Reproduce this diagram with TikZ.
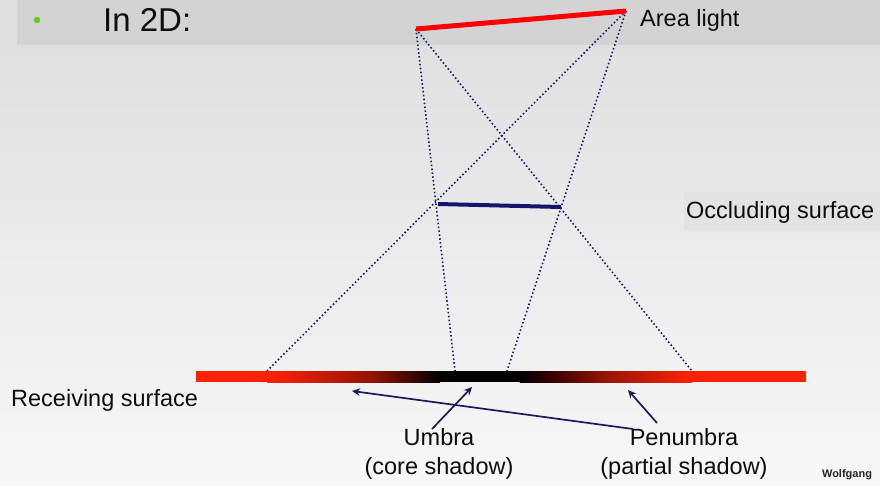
\documentclass[tikz,border=0pt]{standalone}
\usepackage{fontspec}
\setmainfont{Liberation Sans}
\usetikzlibrary{arrows.meta}
\definecolor{lightred}{HTML}{FF2200}
\definecolor{midred}{HTML}{961400}
\definecolor{darkred}{HTML}{3C0200}
\definecolor{navyline}{HTML}{14146A}
\definecolor{arrownavy}{HTML}{1A1A5C}
\definecolor{bandgray}{HTML}{D3D3D3}
\definecolor{bulletgreen}{HTML}{66CC22}
\tikzset{
  lbl/.style={font=\fontsize{23.5}{27}\selectfont, text=black!95, inner sep=0pt},
  ray/.style={navyline, line width=1.6pt, dash pattern=on 1.5pt off 2.4pt},
  pointer/.style={arrownavy, line width=1.7pt, -{Stealth[length=8pt,width=7.5pt]}},
}
\begin{document}
\begin{tikzpicture}[x=1pt,y=-1pt]
% background
\shade[top color=black!13, bottom color=black!3] (0,0) rectangle (880,485);
\useasboundingbox (0,0) rectangle (880,485);
\fill[black!12] (0,0) rectangle (17,45);
\fill[bandgray] (17,0) rectangle (880,45);
\fill[black!11] (684,192) rectangle (880,231);

% title
\fill[bulletgreen] (37,20) circle (3.3);
\node[lbl, font=\fontsize{33}{38}\selectfont, anchor=west] (title) at (103,20) {In 2D:};

% geometry coordinates
\coordinate (L1) at (416,29);
\coordinate (L2) at (626,11);
\coordinate (O1) at (438,204);
\coordinate (O2) at (561,207);
\coordinate (P1) at (267,371);
\coordinate (U1) at (455,371);
\coordinate (U2) at (507,371);
\coordinate (P2) at (692,371);

% rays
\draw[ray] (L1) -- (U1);
\draw[ray] (L1) -- (P2);
\draw[ray] (L2) -- (P1);
\draw[ray] (L2) -- (U2);

% receiving surface
\fill[lightred] (196,371) rectangle (267,382);
\shade[left color=lightred, right color=midred] (267,371) rectangle (370,382);
\shade[left color=midred, right color=black] (369.5,371) rectangle (440,382);
\fill[black] (439.5,371) rectangle (520,382);
\shade[left color=black, right color=darkred] (519.5,371) rectangle (555,382);
\shade[left color=darkred, right color=midred] (554.5,371) rectangle (605,382);
\shade[left color=midred, right color=lightred] (604.5,371) rectangle (692,382);
\fill[lightred] (691.5,371) rectangle (806,382);

% area light and occluder
\draw[red, line width=5pt] (L1) -- (L2);
\draw[navyline, line width=4pt] (O1) -- (O2);

% labels
\node[lbl, anchor=west] (area) at (640,20) {Area light};
\node[lbl, anchor=west] (occl) at (686,212) {Occluding surface};
\node[lbl, anchor=west] (recv) at (11,400) {Receiving surface};
\node[lbl, align=center] (umbra) at (439,454) {Umbra\\[2pt](core shadow)};
\node[lbl, align=center] (penumbra) at (684,454) {Penumbra\\[2pt](partial shadow)};
\node[font=\fontsize{11}{13}\selectfont\bfseries, text=black!85, inner sep=0pt] (wolf) at (847,475) {Wolfgang};

% pointer arrows
\coordinate (pa) at (633,429);
\coordinate (pat) at (352,391);
\coordinate (ua) at (432,429);
\coordinate (uat) at (472,387);
\coordinate (pb) at (657,423);
\coordinate (pbt) at (628,390);
\draw[pointer] (pa) -- (pat);
\draw[pointer] (ua) -- (uat);
\draw[pointer] (pb) -- (pbt);
\end{tikzpicture}
\end{document}
